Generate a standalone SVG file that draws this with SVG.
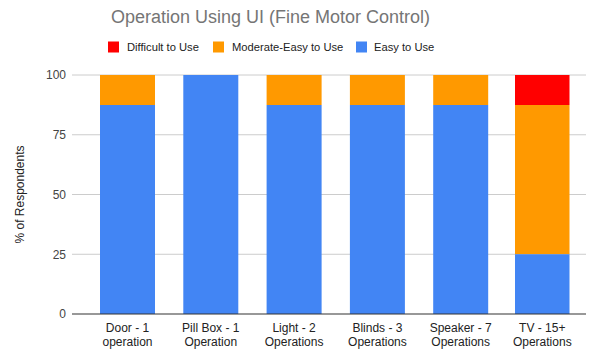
<svg xmlns="http://www.w3.org/2000/svg" width="589" height="354" viewBox="0 0 589 354">
<style>
text{font-family:"Liberation Sans",Arial,sans-serif}
.title{font-size:18px;fill:#757575}
.leg{font-size:11.2px;fill:#222}
.ytick{font-size:12px;fill:#444;text-anchor:end}
.xl{font-size:12px;fill:#222;text-anchor:middle}
.grid{stroke:#ccc;stroke-width:1}
.easy{fill:#4285F4}
.mod{fill:#FF9900}
.diff{fill:#FF0000}
</style>
<rect width="589" height="354" fill="#fff"/>
<text class="title" x="270.5" y="23" text-anchor="middle">Operation Using UI (Fine Motor Control)</text>
<g id="legend">
<rect class="diff" x="108" y="41.5" width="11" height="11"/>
<text class="leg" x="127" y="51">Difficult to Use</text>
<rect class="mod" x="213" y="41.5" width="11" height="11"/>
<text class="leg" x="232" y="51">Moderate-Easy to Use</text>
<rect class="easy" x="356" y="41.5" width="11" height="11"/>
<text class="leg" x="374" y="51">Easy to Use</text>
</g>
<g id="grid">
<line class="grid" x1="72" y1="75" x2="586" y2="75"/>
<line class="grid" x1="72" y1="134.75" x2="586" y2="134.75"/>
<line class="grid" x1="72" y1="194.5" x2="586" y2="194.5"/>
<line class="grid" x1="72" y1="254.25" x2="586" y2="254.25"/>
</g>
<g id="yaxis">
<text class="ytick" x="66" y="79">100</text>
<text class="ytick" x="66" y="139">75</text>
<text class="ytick" x="66" y="198.5">50</text>
<text class="ytick" x="66" y="258.5">25</text>
<text class="ytick" x="66" y="318">0</text>
<text x="24" y="194.5" font-size="12" fill="#222" text-anchor="middle" transform="rotate(-90 24 194.5)">% of Respondents</text>
</g>
<g id="bar-door">
<rect class="mod" x="100" y="75" width="55" height="30"/>
<rect class="easy" x="100" y="105" width="55" height="209"/>
<text class="xl" x="127.5" y="332">Door - 1</text>
<text class="xl" x="127.5" y="346">operation</text>
</g>
<g id="bar-pillbox">
<rect class="easy" x="183.3" y="75" width="55" height="239"/>
<text class="xl" x="210.8" y="332">Pill Box - 1</text>
<text class="xl" x="210.8" y="346">Operation</text>
</g>
<g id="bar-light">
<rect class="mod" x="266.6" y="75" width="55" height="30"/>
<rect class="easy" x="266.6" y="105" width="55" height="209"/>
<text class="xl" x="294.1" y="332">Light - 2</text>
<text class="xl" x="294.1" y="346">Operations</text>
</g>
<g id="bar-blinds">
<rect class="mod" x="349.9" y="75" width="55" height="30"/>
<rect class="easy" x="349.9" y="105" width="55" height="209"/>
<text class="xl" x="377.4" y="332">Blinds - 3</text>
<text class="xl" x="377.4" y="346">Operations</text>
</g>
<g id="bar-speaker">
<rect class="mod" x="433.2" y="75" width="55" height="30"/>
<rect class="easy" x="433.2" y="105" width="55" height="209"/>
<text class="xl" x="460.7" y="332">Speaker - 7</text>
<text class="xl" x="460.7" y="346">Operations</text>
</g>
<g id="bar-tv">
<rect class="diff" x="515" y="75" width="54.5" height="30"/>
<rect class="mod" x="515" y="105" width="54.5" height="149.25"/>
<rect class="easy" x="515" y="254.25" width="54.5" height="59.75"/>
<text class="xl" x="542.3" y="332">TV - 15+</text>
<text class="xl" x="542.3" y="346">Operations</text>
</g>
<g id="connectors">
<line x1="72" y1="314" x2="586" y2="314" stroke="#333" stroke-width="1.2"/>
</g>
</svg>
